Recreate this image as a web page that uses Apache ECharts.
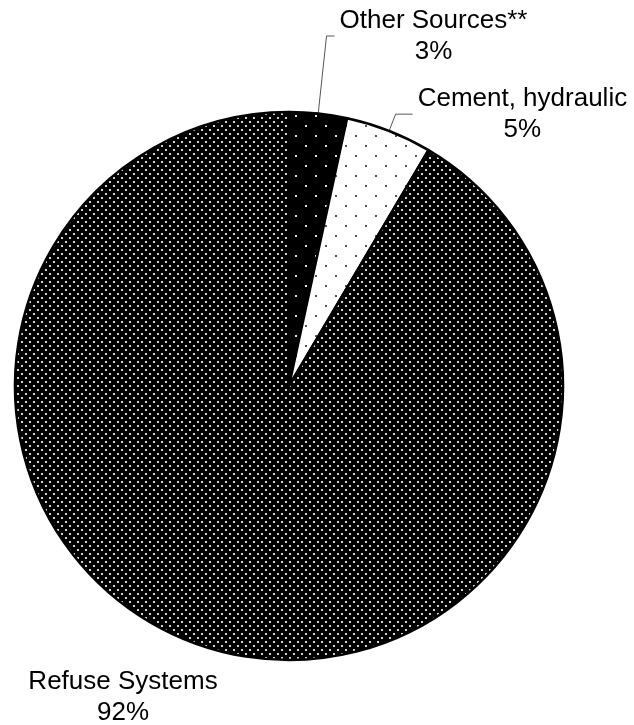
<!DOCTYPE html>
<html>
<head>
<meta charset="utf-8">
<script src="https://cdn.jsdelivr.net/npm/echarts@6/dist/echarts.min.js"></script>
<style>
  html, body { margin: 0; padding: 0; background: #fff; }
  #pieChart { width: 634px; height: 725px; }
</style>
</head>
<body>
<div id="pieChart"></div>
<script>
// source shares (percent)
var categories = ['Other Sources**', 'Cement, hydraulic', 'Refuse Systems'];
var shares = [3.4, 5.1, 91.5];

// dotted fills, drawn on small canvases and repeated
function dotPattern(size, bg, dot, spots) {
  var c = document.createElement('canvas');
  c.width = size;
  c.height = size;
  var ctx = c.getContext('2d');
  ctx.fillStyle = bg;
  ctx.fillRect(0, 0, size, size);
  ctx.fillStyle = dot;
  spots.forEach(function (p) {
    ctx.fillRect(p[0], p[1], 2, 2);
  });
  return { image: c, repeat: 'repeat' };
}

var fills = [
  dotPattern(20, '#000', '#e0e0e0', [[5, 5], [15, 15]]),
  dotPattern(20, '#fff', '#555', [[5, 5], [15, 15]]),
  dotPattern(8, '#000', '#d4d4d4', [[1, 1], [5, 5]])
];
var lineLens = [[78, 8], [18, 17], [10, 10]];

var myChart = echarts.init(document.getElementById('pieChart'));
myChart.setOption({
  animation: false,
  series: [{
    type: 'pie',
    center: [289, 386],
    radius: 274,
    startAngle: 90,
    clockwise: true,
    percentPrecision: 0,
    avoidLabelOverlap: false,
    itemStyle: {
      borderColor: '#000',
      borderWidth: 2.5
    },
    label: {
      show: true,
      position: 'outside',
      formatter: '{n|{b}}\n{n|{d}%}',
      rich: {
        n: {
          align: 'center',
          fontFamily: 'Liberation Sans, Arial, sans-serif',
          fontSize: 26,
          lineHeight: 31,
          color: '#000'
        }
      }
    },
    labelLine: {
      show: true,
      lineStyle: { color: '#555', width: 1 }
    },
    labelLayout: function (params) {
      // bottom label sits below-left with no leader line
      if (params.dataIndex === 2) {
        return { x: 123, y: 697, align: 'center', verticalAlign: 'middle' };
      }
    },
    emphasis: { disabled: true },
    data: categories.map(function (name, i) {
      return {
        name: name,
        value: shares[i],
        itemStyle: { color: fills[i] },
        labelLine: {
          show: i !== 2,
          length: lineLens[i][0],
          length2: lineLens[i][1]
        }
      };
    })
  }]
});
</script>
</body>
</html>
